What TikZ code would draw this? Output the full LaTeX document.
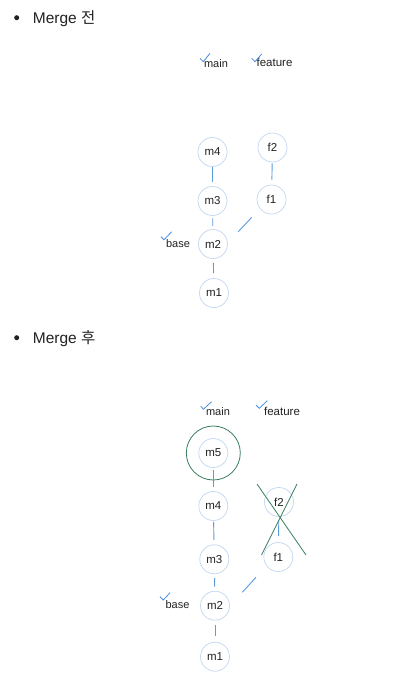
\documentclass[tikz,border=0pt]{standalone}
\usepackage{fontspec}
\setmainfont{Liberation Sans}
\newfontfamily\cjk{Noto Sans CJK KR}
\definecolor{ring}{HTML}{C2D7F2}
\definecolor{edgeblue}{HTML}{5B9BE0}
\definecolor{checkblue}{HTML}{4A90E2}
\definecolor{mergegreen}{HTML}{3A7F5F}
\definecolor{txt}{HTML}{222222}
\begin{document}
\begin{tikzpicture}[x=1pt,y=-1pt,
  commit/.style={circle,draw=ring,line width=0.7pt,minimum size=29pt,inner sep=0pt,text=txt,font=\fontsize{11.5}{13}\selectfont},
  reflabel/.style={text=txt,inner sep=0pt,font=\fontsize{11}{12}\selectfont},
  link/.style={draw=edgeblue,line width=0.9pt},
  tick/.style={draw=checkblue,line width=0.8pt},
  heading/.style={text=txt,inner sep=0pt,anchor=base west,font=\fontsize{15.5}{18}\selectfont},
  bulletdot/.style={circle,fill=txt,minimum size=5pt,inner sep=0pt},
  cross/.style={draw=mergegreen,line width=0.8pt}]
\useasboundingbox (0,0) rectangle (418,694);
\fill[white] (0,0) rectangle (418,694);

% ---------- Merge 전 ----------
\node[bulletdot] (b1) at (16.7,17.7) {};
\node[heading] (h1) at (32.7,23.3) {Merge {\cjk 전}};

\node[reflabel] (mainA) at (216,63.5) {main};
\node[reflabel,font=\fontsize{11.5}{12}\selectfont] (featA) at (274.5,62.5) {feature};
\node[reflabel] (baseA) at (178,243.5) {base};
\draw[tick] (200,58.3) -- (203.3,61.7) -- (210,53.3);
\draw[tick] (251.7,58.3) -- (255,61.7) -- (261.7,54);
\draw[tick] (161,236.7) -- (164,239.8) -- (171.7,231.7);

\node[commit] (m4A) at (212.5,152) {m4};
\node[commit] (m3A) at (212.5,201) {m3};
\node[commit] (m2A) at (213,244) {m2};
\node[commit] (m1A) at (214,293) {m1};
\node[commit] (f2A) at (272.5,147.5) {f2};
\node[commit] (f1A) at (271.5,199.5) {f1};

\draw[link,shorten <=0.5pt,shorten >=4pt] (m4A) -- (m3A);
\draw[link,shorten <=2.5pt,shorten >=3pt] (m3A) -- (m2A);
\draw[link,shorten <=4pt,shorten >=5pt] (m2A) -- (m1A);
\draw[link,shorten <=1pt,shorten >=5pt] (f2A) -- (f1A);
\draw[link] ([shift={(25.3,-12.3)}]m2A.center) -- ([shift={(-19.8,17.8)}]f1A.center);

% ---------- Merge 후 ----------
\node[bulletdot] (b2) at (16.7,337.7) {};
\node[heading] (h2) at (32.7,343.3) {Merge {\cjk 후}};

\node[reflabel] (mainB) at (218,412) {main};
\node[reflabel,font=\fontsize{11.5}{12}\selectfont] (featB) at (282,411) {feature};
\node[reflabel] (baseB) at (177.5,604.5) {base};
\draw[tick] (200.7,406) -- (203.3,409.3) -- (211.7,401.7);
\draw[tick] (256,405) -- (259.3,408.3) -- (267.3,400.7);
\draw[tick] (160,596.7) -- (163.3,600) -- (170,592.7);

\node[commit] (m5B) at (213.3,453) {m5};
\node[circle,draw=mergegreen,line width=0.8pt,minimum size=54pt,inner sep=0pt] (m5ring) at (m5B) {};
\node[commit] (m4B) at (213.3,506) {m4};
\node[commit] (m3B) at (214.3,559.3) {m3};
\node[commit] (m2B) at (215,605.7) {m2};
\node[commit] (m1B) at (215,656.7) {m1};
\node[commit] (f2B) at (279,502) {f2};
\node[commit] (f1B) at (278.3,557) {f1};

\draw[link,shorten <=2pt,shorten >=4pt] (m5B) -- (m4B);
\draw[link,shorten <=1pt,shorten >=4.5pt] (m4B) -- (m3B);
\draw[link,shorten <=4pt,shorten >=4pt] (m3B) -- (m2B);
\draw[link,shorten <=4.5pt,shorten >=5.5pt] (m2B) -- (m1B);
\draw[link,shorten <=3.5pt,shorten >=6pt] (f2B) -- (f1B);
\draw[link] ([shift={(27.3,-13.4)}]m2B.center) -- ([shift={(-22.3,20.3)}]f1B.center);

\coordinate (xa1) at (257,484);
\coordinate (xa2) at (306,555);
\coordinate (xb1) at (297,484);
\coordinate (xb2) at (261.5,555);
\draw[cross] (xa1) -- (xa2);
\draw[cross] (xb1) -- (xb2);
\end{tikzpicture}
\end{document}
